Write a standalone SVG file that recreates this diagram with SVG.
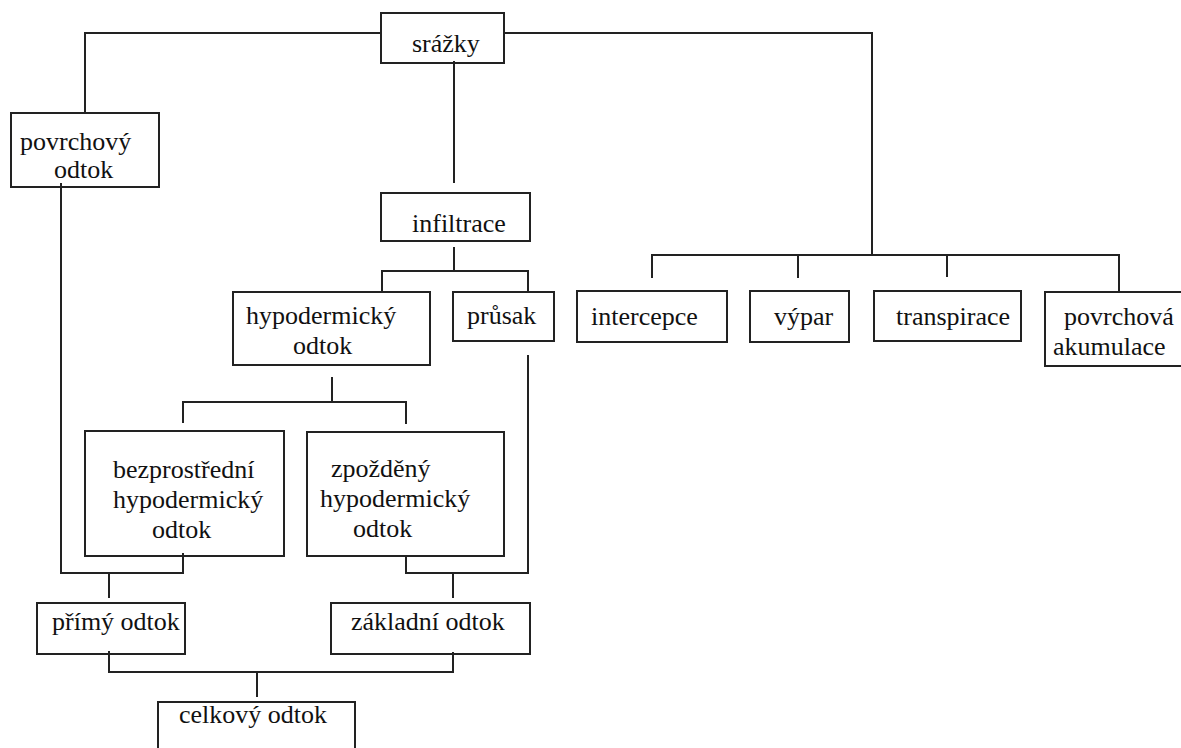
<svg xmlns="http://www.w3.org/2000/svg" width="1181" height="748" viewBox="0 0 1181 748">
<style>
.box{fill:none;stroke:#222;stroke-width:2}
.ln{fill:none;stroke:#222;stroke-width:2}
text{font-family:"Liberation Serif","Times New Roman",serif;font-size:26px;fill:#111}
</style>
<rect width="1181" height="748" fill="#fff"/>
<g id="connectors">
<path class="ln" d="M85,113 V33 H381"/>
<path class="ln" d="M504,33 H872 V255"/>
<path class="ln" d="M454,61 V183"/>
<path class="ln" d="M652,278 V255 H1119 V292"/>
<path class="ln" d="M798,255 V278"/>
<path class="ln" d="M947,255 V277"/>
<path class="ln" d="M454,247 V271"/>
<path class="ln" d="M382,293 V271 H528 V293"/>
<path class="ln" d="M332,377 V402"/>
<path class="ln" d="M183,423 V402 H406 V424"/>
<path class="ln" d="M61,183 V573 H183 V553"/>
<path class="ln" d="M109,573 V598"/>
<path class="ln" d="M528,355 V573 H406 V556"/>
<path class="ln" d="M453,573 V598"/>
<path class="ln" d="M109,651 V672 H453 V652"/>
<path class="ln" d="M257,672 V697"/>
</g>
<g id="srazky"><rect class="box" x="381" y="13" width="123" height="50"/><text x="412" y="52">srážky</text></g>
<g id="povrchovy-odtok"><rect class="box" x="11" y="113" width="148" height="74"/><text x="20" y="150">povrchový</text><text x="54" y="178">odtok</text></g>
<g id="infiltrace"><rect class="box" x="381" y="193" width="149" height="48"/><text x="412" y="232">infiltrace</text></g>
<g id="hypodermicky-odtok"><rect class="box" x="233" y="292" width="197" height="73"/><text x="246" y="324">hypodermický</text><text x="293" y="354">odtok</text></g>
<g id="prusak"><rect class="box" x="453" y="292" width="101" height="49"/><text x="467" y="324">průsak</text></g>
<g id="intercepce"><rect class="box" x="577" y="291" width="150" height="51"/><text x="591" y="325">intercepce</text></g>
<g id="vypar"><rect class="box" x="750" y="291" width="99" height="51"/><text x="774" y="325">výpar</text></g>
<g id="transpirace"><rect class="box" x="874" y="291" width="147" height="50"/><text x="896" y="325">transpirace</text></g>
<g id="povrchova-akumulace"><rect class="box" x="1045" y="292" width="145" height="74"/><text x="1064" y="325">povrchová</text><text x="1053" y="355">akumulace</text></g>
<g id="bezprostredni"><rect class="box" x="85" y="431" width="199" height="125"/><text x="113" y="478">bezprostřední</text><text x="113" y="508">hypodermický</text><text x="152" y="538">odtok</text></g>
<g id="zpozdeny"><rect class="box" x="307" y="432" width="197" height="124"/><text x="331" y="477">zpožděný</text><text x="320" y="507">hypodermický</text><text x="353" y="537">odtok</text></g>
<g id="primy-odtok"><rect class="box" x="37" y="603" width="148" height="51"/><text x="52" y="630">přímý odtok</text></g>
<g id="zakladni-odtok"><rect class="box" x="331" y="603" width="199" height="51"/><text x="351" y="630">základní odtok</text></g>
<g id="celkovy-odtok"><rect class="box" x="158" y="702" width="197" height="60"/><text x="179" y="723">celkový odtok</text></g>
</svg>
